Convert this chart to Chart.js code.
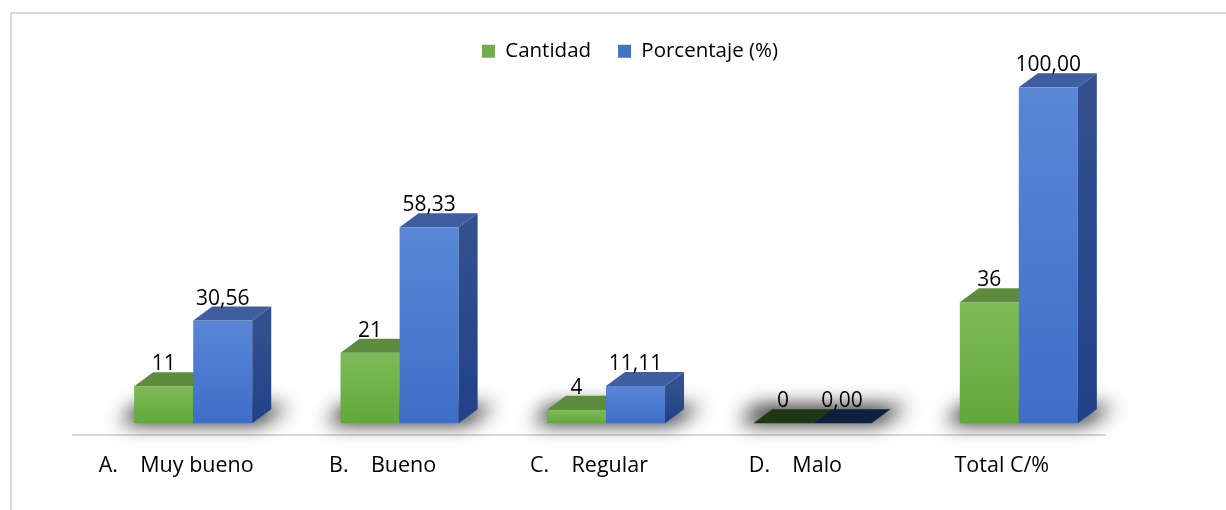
<!DOCTYPE html>
<html>
<head>
<meta charset="utf-8">
<script src="https://cdn.jsdelivr.net/npm/chart.js@4/dist/chart.umd.min.js"></script>
<style>
html, body { margin: 0; padding: 0; background: #fff; }
</style>
</head>
<body>
<canvas id="canvas" width="1226" height="510"></canvas>
<script>
var categories = ["A.    Muy bueno", "B.    Bueno", "C.    Regular", "D.    Malo", "Total C/%"];
var cantidad = [11, 21, 4, 0, 36];
var porcentaje = [30.56, 58.33, 11.11, 0, 100];

// fake 3D look, like the excel chart
var depthX = 19, depthY = 14;
var shiftX = 17, shiftY = -12;
var frontTop = ['#7dbb57', '#5a86d6'];
var frontBottom = ['#62a83a', '#3f6ec8'];
var topColors = ['#5e8c3e', '#3e5e9f'];
var zeroTopColors = ['#1f3612', '#0f1f3e'];
var sideColors = ['#4d7a31', '#33518f'];

function fmt(d, v) {
    return d === 0 ? String(v) : v.toFixed(2).replace('.', ',');
}

var bar3d = {
    id: 'bar3d',
    beforeDraw: function(chart) {
        var ctx = chart.ctx;
        ctx.save();
        ctx.fillStyle = '#fff';
        ctx.fillRect(0, 0, chart.width, chart.height);
        ctx.fillStyle = '#d9d9d9';
        ctx.fillRect(10, 12, chart.width - 10, 2);
        ctx.fillRect(10, 12, 2, chart.height - 12);
        ctx.restore();
    },
    beforeDatasetsDraw: function(chart) {
        var ctx = chart.ctx;
        var metas = [chart.getDatasetMeta(0), chart.getDatasetMeta(1)];
        var vals = [cantidad, porcentaje];
        ctx.save();
        ctx.translate(shiftX, shiftY);

        // floor shadows
        for (var i = 0; i < categories.length; i++) {
            var a = metas[0].data[i], b = metas[1].data[i];
            var x1 = a.x - a.width / 2, x2 = b.x + b.width / 2, base = a.base;
            ctx.save();
            ctx.shadowColor = 'rgba(0,0,0,0.95)';
            ctx.shadowBlur = 20;
            ctx.shadowOffsetX = 3000;
            ctx.fillStyle = '#000';
            ctx.beginPath();
            ctx.moveTo(x1 - 14 - 3000, base);
            ctx.lineTo(x2 + 8 - 3000, base);
            ctx.lineTo(x2 + depthX + 18 - 3000, base - depthY - 3);
            ctx.lineTo(x1 + depthX - 16 - 3000, base - depthY - 3);
            ctx.closePath();
            ctx.fill();
            ctx.restore();
        }

        for (var i = 0; i < categories.length; i++) {
            for (var d = 0; d < 2; d++) {
                var el = metas[d].data[i];
                var l = el.x - el.width / 2, r = el.x + el.width / 2;
                var y = el.y, base = el.base;
                // front
                if (base - y > 0.5) {
                    var g = ctx.createLinearGradient(0, y, 0, base);
                    g.addColorStop(0, frontTop[d]);
                    g.addColorStop(1, frontBottom[d]);
                    ctx.fillStyle = g;
                    ctx.fillRect(l, y, r - l, base - y);
                }
                // top
                ctx.fillStyle = vals[d][i] === 0 ? zeroTopColors[d] : topColors[d];
                ctx.beginPath();
                ctx.moveTo(l, y);
                ctx.lineTo(r, y);
                ctx.lineTo(r + depthX, y - depthY);
                ctx.lineTo(l + depthX, y - depthY);
                ctx.closePath();
                ctx.fill();
                // side
                if (base - y > 0.5) {
                    var gs = ctx.createLinearGradient(0, y, 0, base);
                    gs.addColorStop(0, sideColors[d]);
                    gs.addColorStop(1, d === 1 ? '#214189' : '#3f6a25');
                    ctx.fillStyle = gs;
                    ctx.beginPath();
                    ctx.moveTo(r, y);
                    ctx.lineTo(r + depthX, y - depthY);
                    ctx.lineTo(r + depthX, base - depthY);
                    ctx.lineTo(r, base);
                    ctx.closePath();
                    ctx.fill();
                }
            }
        }

        // value labels
        ctx.fillStyle = '#000';
        ctx.font = '21px "Open Sans"';
        ctx.textAlign = 'center';
        ctx.textBaseline = 'alphabetic';
        for (var d = 0; d < 2; d++) {
            metas[d].data.forEach(function(el, i) {
                ctx.fillText(fmt(d, vals[d][i]), el.x, el.y - depthY - 2);
            });
        }
        ctx.restore();
        return false;
    }
};

window.onload = function() {
    var ctx = document.getElementById("canvas").getContext("2d");
    new Chart(ctx, {
        type: 'bar',
        data: {
            labels: categories,
            datasets: [{
                label: 'Cantidad',
                data: cantidad,
                backgroundColor: '#70ad47',
                categoryPercentage: 0.572,
                barPercentage: 1
            }, {
                label: 'Porcentaje (%)',
                data: porcentaje,
                backgroundColor: '#4472c4',
                categoryPercentage: 0.572,
                barPercentage: 1
            }]
        },
        options: {
            responsive: false,
            animation: false,
            layout: { padding: { left: 73, right: 39, top: 14, bottom: 13 } },
            plugins: {
                legend: {
                    position: 'top',
                    labels: {
                        boxWidth: 13,
                        boxHeight: 13,
                        padding: 27,
                        color: '#000',
                        font: { family: '"Open Sans"', size: 20.5 }
                    }
                },
                tooltip: { enabled: false }
            },
            scales: {
                x: {
                    grid: { display: false, drawTicks: false },
                    border: { display: true, color: '#d9d9d9', width: 2 },
                    ticks: { color: '#000', padding: 18, font: { family: '"Open Sans"', size: 21.5 }, maxRotation: 0 }
                },
                y: {
                    position: 'right',
                    min: 0,
                    max: 108.3,
                    ticks: { display: false },
                    grid: { display: false },
                    border: { display: false },
                    afterFit: function(scale) { scale.width = 82; }
                }
            }
        },
        plugins: [bar3d]
    });
};
</script>
</body>
</html>
